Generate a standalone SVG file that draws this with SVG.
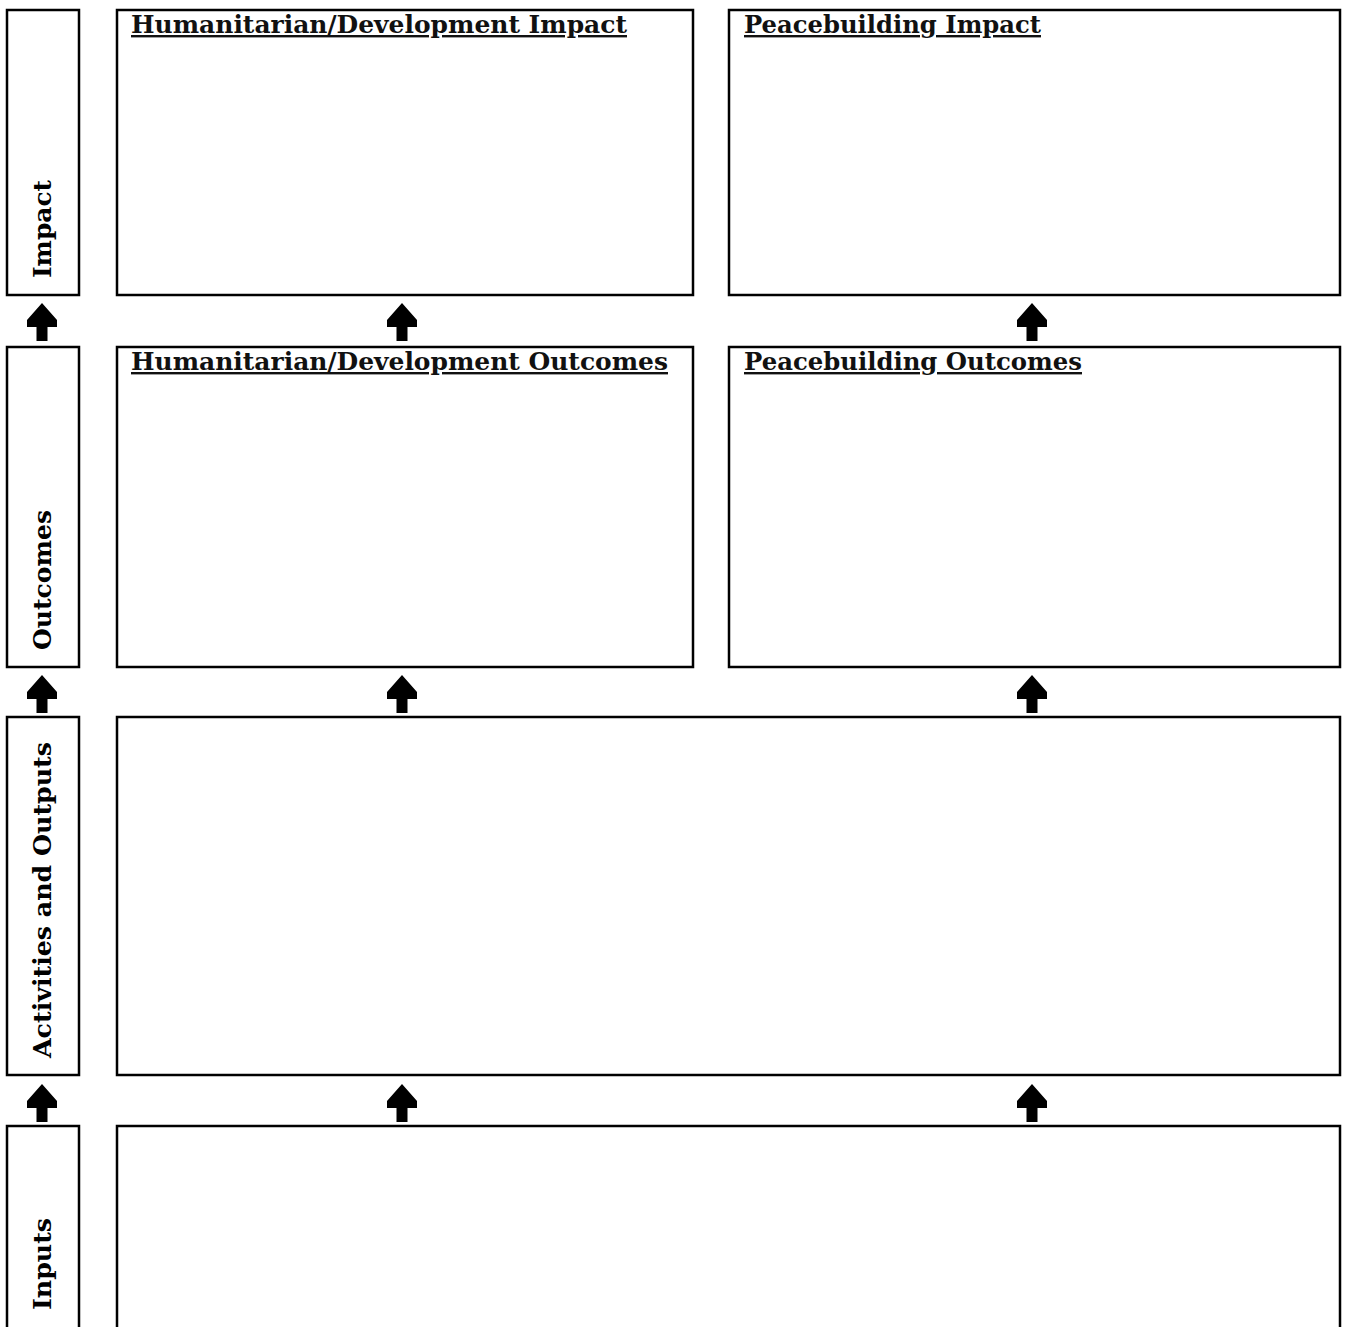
<svg xmlns="http://www.w3.org/2000/svg" width="1347" height="1327" viewBox="0 0 1347 1327" xmlns:xlink="http://www.w3.org/1999/xlink">
<style>
.box{fill:#fff;stroke:#000;stroke-width:2.5}
.t{font-family:"DejaVu Serif","Liberation Serif",serif;font-weight:bold;font-size:24px;fill:#111;text-decoration:underline}
.v{font-family:"DejaVu Serif","Liberation Serif",serif;font-weight:bold;font-size:24px;fill:#000}
.arrow{fill:#000}
</style>
<defs>
<path id="up" d="M0,0 L15,17 L15,24 L5.5,24 L5.5,38 L-5.5,38 L-5.5,24 L-15,24 L-15,17 Z"/>
</defs>
<rect width="1347" height="1327" fill="#fff"/>
<g id="label-impact">
<rect class="box" x="7" y="10" width="72" height="285"/>
<text class="v" transform="translate(51,278) rotate(-90)" textLength="98" lengthAdjust="spacingAndGlyphs">Impact</text>
</g>
<g id="label-outcomes">
<rect class="box" x="7" y="347" width="72" height="320"/>
<text class="v" transform="translate(51,650) rotate(-90)" textLength="140" lengthAdjust="spacingAndGlyphs">Outcomes</text>
</g>
<g id="label-activities">
<rect class="box" x="7" y="717" width="72" height="358"/>
<text class="v" transform="translate(51,1058) rotate(-90)" textLength="316" lengthAdjust="spacingAndGlyphs">Activities and Outputs</text>
</g>
<g id="label-inputs">
<rect class="box" x="7" y="1126" width="72" height="240"/>
<text class="v" transform="translate(51,1310) rotate(-90)" textLength="92" lengthAdjust="spacingAndGlyphs">Inputs</text>
</g>
<g id="hd-impact">
<rect class="box" x="117" y="10" width="576" height="285"/>
<text class="t" x="131" y="33" textLength="496" lengthAdjust="spacingAndGlyphs">Humanitarian/Development Impact</text>
</g>
<g id="pb-impact">
<rect class="box" x="729" y="10" width="611" height="285"/>
<text class="t" x="744" y="33" textLength="297" lengthAdjust="spacingAndGlyphs">Peacebuilding Impact</text>
</g>
<g id="hd-outcomes">
<rect class="box" x="117" y="347" width="576" height="320"/>
<text class="t" x="131" y="370" textLength="537" lengthAdjust="spacingAndGlyphs">Humanitarian/Development Outcomes</text>
</g>
<g id="pb-outcomes">
<rect class="box" x="729" y="347" width="611" height="320"/>
<text class="t" x="744" y="370" textLength="338" lengthAdjust="spacingAndGlyphs">Peacebuilding Outcomes</text>
</g>
<g id="activities">
<rect class="box" x="117" y="717" width="1223" height="358"/>
</g>
<g id="inputs">
<rect class="box" x="117" y="1126" width="1223" height="240"/>
</g>
<g id="connectors" class="arrow">
<use xlink:href="#up" transform="translate(42,303)"/>
<use xlink:href="#up" transform="translate(402,303)"/>
<use xlink:href="#up" transform="translate(1032,303)"/>
<use xlink:href="#up" transform="translate(42,675)"/>
<use xlink:href="#up" transform="translate(402,675)"/>
<use xlink:href="#up" transform="translate(1032,675)"/>
<use xlink:href="#up" transform="translate(42,1084)"/>
<use xlink:href="#up" transform="translate(402,1084)"/>
<use xlink:href="#up" transform="translate(1032,1084)"/>
</g>
</svg>
